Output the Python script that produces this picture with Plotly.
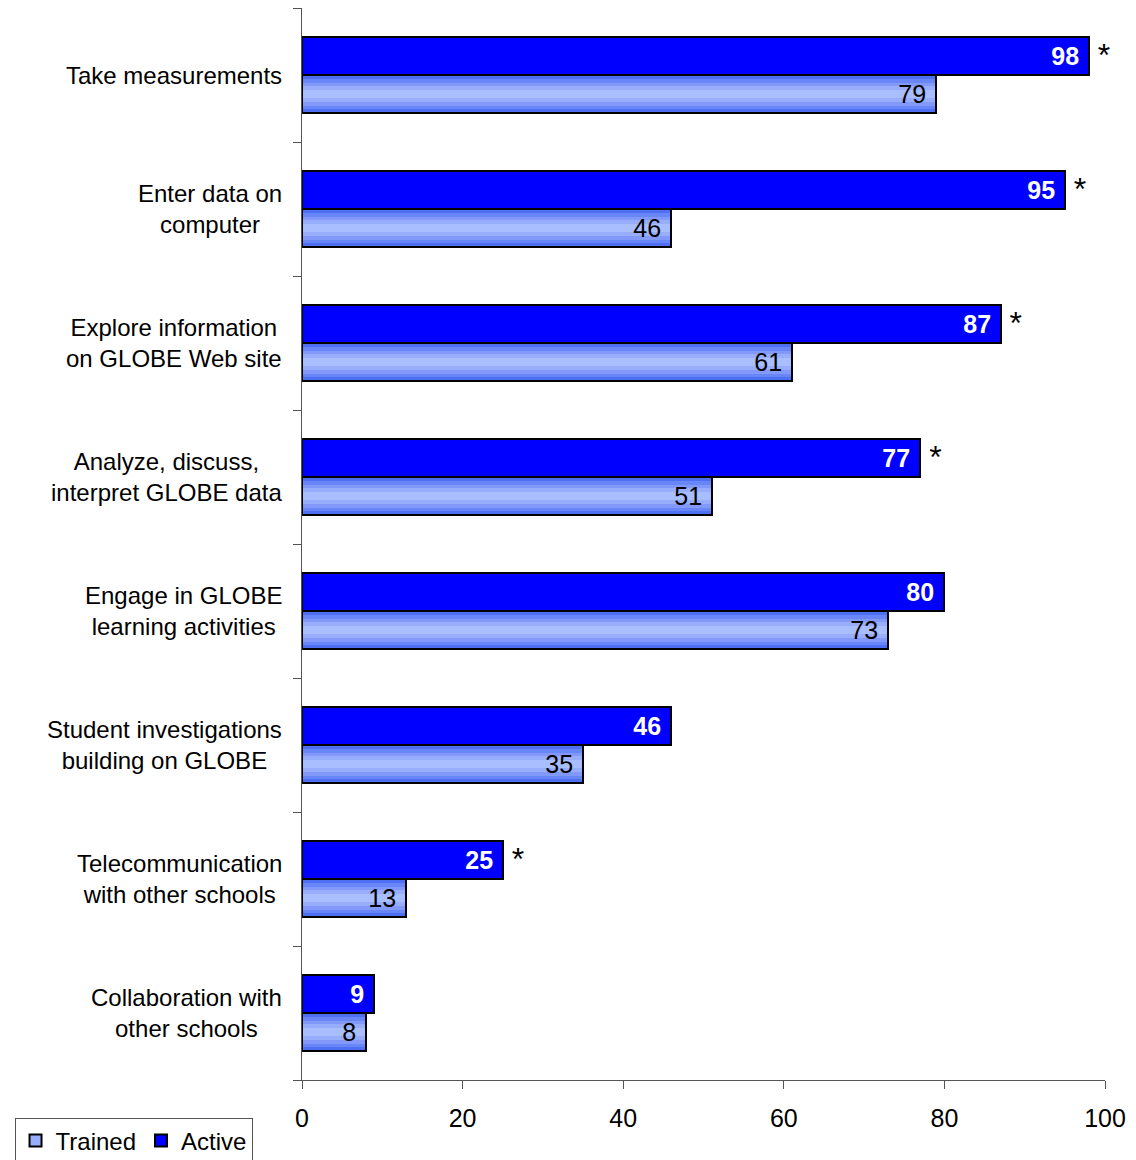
import plotly.graph_objects as go

categories = [
    "Take measurements",
    "Enter data on<br>computer",
    "Explore information<br>on GLOBE Web site",
    "Analyze, discuss,<br>interpret GLOBE data",
    "Engage in GLOBE<br>learning activities",
    "Student investigations<br>building on GLOBE",
    "Telecommunication<br>with other schools",
    "Collaboration with<br>other schools",
]
active = [98, 95, 87, 77, 80, 46, 25, 9]
trained = [79, 46, 61, 51, 73, 35, 13, 8]
significant = [True, True, True, True, False, False, True, False]
x_ticks = [0, 20, 40, 60, 80, 100]

FONT = "Liberation Sans, Arial, sans-serif"
FS = 25
n = len(categories)
pos = list(range(n))
BW = 0.285  # bar thickness in category units

fig = go.Figure()

# Trained bars: layered stripes to mimic the gradient fill
stripe_colors = ["#4f6ff3", "#6886f7", "#8299fa", "#98aefc", "#a9beff"]
for k, col in enumerate(stripe_colors):
    frac = 1 - k * 0.2
    w = BW * frac
    fig.add_trace(go.Bar(
        x=trained, y=pos, orientation="h",
        width=[w] * n, offset=(BW - w) / 2,
        marker=dict(color=col, line=dict(width=0)),
        showlegend=False, hoverinfo="skip",
    ))

# Trained outline + labels
fig.add_trace(go.Bar(
    x=trained, y=pos, orientation="h", name="Trained",
    width=[BW] * n, offset=0,
    marker=dict(color="rgba(0,0,0,0)", line=dict(color="black", width=2)),
    text=[f"{v}\u00a0" for v in trained], textposition="inside",
    insidetextanchor="end", constraintext="none",
    textfont=dict(family=FONT, size=FS, color="black"),
    showlegend=False, hoverinfo="skip",
))

# Active bars
fig.add_trace(go.Bar(
    x=active, y=pos, orientation="h", name="Active",
    width=[BW] * n, offset=-BW,
    marker=dict(color="#0000ff", line=dict(color="black", width=2)),
    text=[f"<b>{v}</b>\u00a0" for v in active], textposition="inside",
    insidetextanchor="end", constraintext="none",
    textfont=dict(family=FONT, size=FS, color="white"),
    showlegend=True, legendrank=2, hoverinfo="skip",
))

# Legend proxy for Trained (light fill)
fig.add_trace(go.Bar(
    x=[None], y=[None], orientation="h", name="Trained",
    marker=dict(color="#98aefc", line=dict(color="black", width=2)),
    showlegend=True, legendrank=1, hoverinfo="skip",
))

# Significance stars
fig.add_trace(go.Scatter(
    x=active, y=[p - BW * 0.45 for p in pos], mode="text",
    text=["\u00a0*" if s else "" for s in significant],
    textposition="middle right",
    textfont=dict(family=FONT, size=32, color="black"),
    showlegend=False, hoverinfo="skip", cliponaxis=False,
))

# Category labels (centered lines, right edge fixed)
for p, c in zip(pos, categories):
    fig.add_annotation(
        x=-0.022, xref="paper", y=p, yref="y",
        text=c, showarrow=False, xanchor="right", yanchor="middle",
        align="center", font=dict(family=FONT, size=24, color="black"),
    )

fig.update_layout(
    width=1136, height=1160,
    margin=dict(l=302, r=31, t=8, b=80, autoexpand=False),
    barmode="overlay",
    plot_bgcolor="white", paper_bgcolor="white",
    font=dict(family=FONT, size=FS, color="black"),
    showlegend=True,
    legend=dict(
        orientation="h", x=-0.358, y=-0.035, xanchor="left", yanchor="top",
        bordercolor="#555555", borderwidth=1,
        font=dict(family=FONT, size=24, color="black"),
        itemwidth=30, tracegroupgap=0,
    ),
    bargap=0,
)

fig.update_xaxes(
    range=[0, 100], tickvals=x_ticks, ticks="outside", ticklen=8,
    tickcolor="#555555", showline=True, linecolor="#555555", linewidth=1,
    showgrid=False, zeroline=False, fixedrange=True,
    ticklabelstandoff=8,
    tickfont=dict(family=FONT, size=FS, color="black"),
)
fig.update_yaxes(
    range=[n - 0.5, -0.5], tickvals=[], showticklabels=False,
    showline=True, linecolor="#555555", linewidth=1,
    showgrid=False, zeroline=False,
    minor=dict(tickvals=[p - 0.5 for p in pos] + [n - 0.5], ticks="outside",
               ticklen=8, tickcolor="#555555", showgrid=False),
)

fig.write_html("out.html")
